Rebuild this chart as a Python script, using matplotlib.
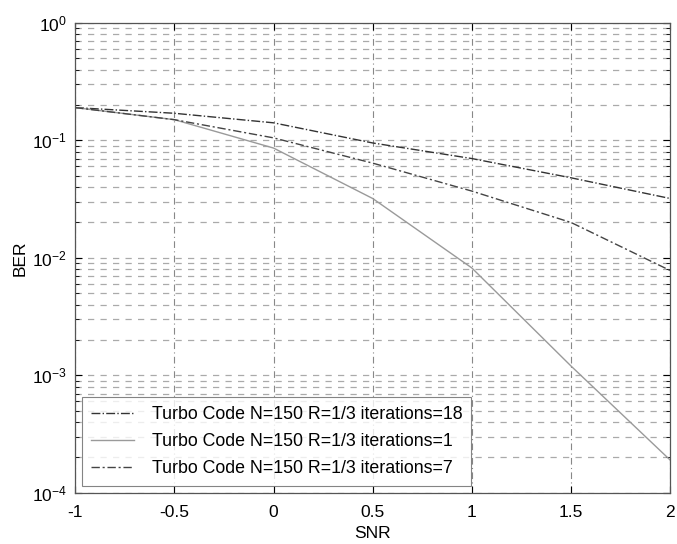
import matplotlib
matplotlib.use("Agg")
import matplotlib.pyplot as plt
from matplotlib.ticker import LogLocator

plt.rcParams['font.family'] = ['Liberation Sans', 'DejaVu Sans']
plt.rcParams['mathtext.fontset'] = 'custom'
plt.rcParams['mathtext.rm'] = 'Liberation Sans'
plt.rcParams['mathtext.it'] = 'Liberation Sans'

snr = [-1.0, -0.5, 0.0, 0.5, 1.0, 1.5, 2.0]
ber_it18 = [0.19, 0.17, 0.141, 0.095, 0.070, 0.048, 0.032]
ber_it1 = [0.19, 0.15, 0.086, 0.032, 0.0082, 0.0012, 0.00019]
ber_it7 = [0.19, 0.15, 0.105, 0.064, 0.037, 0.020, 0.0078]

labels = ['Turbo Code N=150 R=1/3 iterations=18',
          'Turbo Code N=150 R=1/3 iterations=1',
          'Turbo Code N=150 R=1/3 iterations=7']
xticks = [-1, -0.5, 0, 0.5, 1, 1.5, 2]
xticklabels = ['-1', '-0.5', '0', '0.5', '1', '1.5', '2']

fig = plt.figure(figsize=(6.77, 5.44), dpi=100)
ax = fig.add_axes([0.111, 0.094, 0.879, 0.864])

ax.semilogy(snr, ber_it18, color='#333333', lw=1.0, ls='-.', label=labels[0])
ax.semilogy(snr, ber_it1, color='#9a9a9a', lw=1.0, ls='-', label=labels[1])
ax.semilogy(snr, ber_it7, color='#444444', lw=1.0, ls=(0, (6, 2, 1.5, 2)), label=labels[2])

ax.set_xlim(-1, 2)
ax.set_ylim(1e-4, 1)
ax.set_xticks(xticks)
ax.set_xticklabels(xticklabels)
ax.yaxis.set_major_locator(LogLocator(base=10, numticks=10))
ax.yaxis.set_minor_locator(LogLocator(base=10, subs=range(2, 10), numticks=10))

ax.grid(True, which='major', axis='x', color='#888888', ls=(0, (6, 3, 1, 3)), lw=0.8)
ax.grid(True, which='both', axis='y', color='#aaaaaa', ls=(0, (5, 5)), lw=0.9)

ax.tick_params(which='both', direction='in', top=True, right=True, labelsize=12.5)
ax.tick_params(axis='x', pad=9)
ax.tick_params(axis='y', pad=6)
ax.tick_params(which='major', length=5)
ax.tick_params(which='minor', length=3)
for s in ax.spines.values():
    s.set_color('#555555')
    s.set_linewidth(0.9)

ax.set_xlabel('SNR', fontsize=12.5, labelpad=4)
ax.set_ylabel('BER', fontsize=12.5, labelpad=3)

leg = ax.legend(loc='lower left', fontsize=12.8, frameon=True, fancybox=False,
                edgecolor='#666666', borderaxespad=0.4, handlelength=2.4,
                handletextpad=1.0, labelspacing=0.55, borderpad=0.5)
leg.get_frame().set_linewidth(0.8)

fig.savefig('out.png', dpi=100)
